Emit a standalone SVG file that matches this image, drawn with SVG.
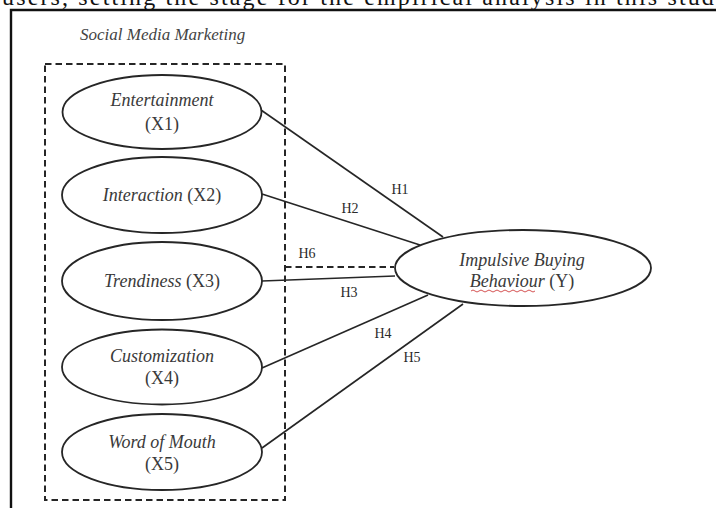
<svg xmlns="http://www.w3.org/2000/svg" width="716" height="508" viewBox="0 0 716 508">
<style>
.node ellipse{fill:#fff;stroke:#262626;stroke-width:1.8}
.lbl{font-family:"Liberation Serif","Times New Roman",serif;font-size:18px;fill:#3a3a3a;text-anchor:middle}
.it{font-style:italic}
.edge{stroke:#262626;stroke-width:1.6;fill:none}
.dash{stroke:#262626;stroke-width:2;fill:none;stroke-dasharray:6.5 4}
.h{font-family:"Liberation Serif","Times New Roman",serif;font-size:14px;fill:#2a2a2a;text-anchor:middle}
</style>
<rect width="716" height="508" fill="#fff"/>
<text x="2" y="5" font-family="Liberation Serif, Times New Roman, serif" font-size="24" fill="#111" textLength="726" lengthAdjust="spacing">users, setting the stage for the empirical analysis in this study</text>
<path d="M11 508 V10 H716" fill="none" stroke="#111" stroke-width="2.4"/>
<text x="80" y="40" font-family="Liberation Serif, Times New Roman, serif" font-size="17" font-style="italic" fill="#444">Social Media Marketing</text>
<rect id="smm-group" x="45" y="64" width="240" height="436" class="dash"/>
<g id="connectors">
<line class="edge" x1="261" y1="110" x2="443" y2="237"/>
<line class="edge" x1="262" y1="194" x2="420" y2="245"/>
<line class="edge" x1="262" y1="281" x2="395" y2="276"/>
<line class="edge" x1="262" y1="368" x2="428" y2="295"/>
<line class="edge" x1="262" y1="448" x2="463" y2="304"/>
<line class="dash" x1="285" y1="267" x2="394" y2="267"/>
<text class="h" x="400" y="194">H1</text>
<text class="h" x="350" y="213">H2</text>
<text class="h" x="307" y="258">H6</text>
<text class="h" x="349" y="297">H3</text>
<text class="h" x="383" y="338">H4</text>
<text class="h" x="412" y="362">H5</text>
</g>
<g id="x1" class="node">
<ellipse cx="162" cy="112" rx="99.5" ry="37"/>
<text class="lbl it" x="162" y="106">Entertainment</text>
<text class="lbl" x="162" y="130">(X1)</text>
</g>
<g id="x2" class="node">
<ellipse cx="162" cy="195" rx="100" ry="38"/>
<text class="lbl" x="162" y="201"><tspan class="it">Interaction</tspan> (X2)</text>
</g>
<g id="x3" class="node">
<ellipse cx="162" cy="281" rx="100" ry="39"/>
<text class="lbl" x="162" y="287"><tspan class="it">Trendiness</tspan> (X3)</text>
</g>
<g id="x4" class="node">
<ellipse cx="162" cy="367" rx="100" ry="37.5"/>
<text class="lbl it" x="162" y="362">Customization</text>
<text class="lbl" x="162" y="384">(X4)</text>
</g>
<g id="x5" class="node">
<ellipse cx="162" cy="452" rx="100" ry="38"/>
<text class="lbl it" x="162" y="448">Word of Mouth</text>
<text class="lbl" x="162" y="470">(X5)</text>
</g>
<g id="y" class="node">
<ellipse cx="523" cy="268" rx="128" ry="38"/>
<text class="lbl it" x="522" y="266">Impulsive Buying</text>
<text class="lbl" x="522" y="287"><tspan class="it">Behaviour</tspan> (Y)</text>
<path d="M471 291 q2 -2 4 0 t4 0 t4 0 t4 0 t4 0 t4 0 t4 0 t4 0 t4 0 t4 0 t4 0 t4 0 t4 0 t4 0 t4 0 t4 0" fill="none" stroke="#d04040" stroke-width="0.9"/>
</g>
</svg>
